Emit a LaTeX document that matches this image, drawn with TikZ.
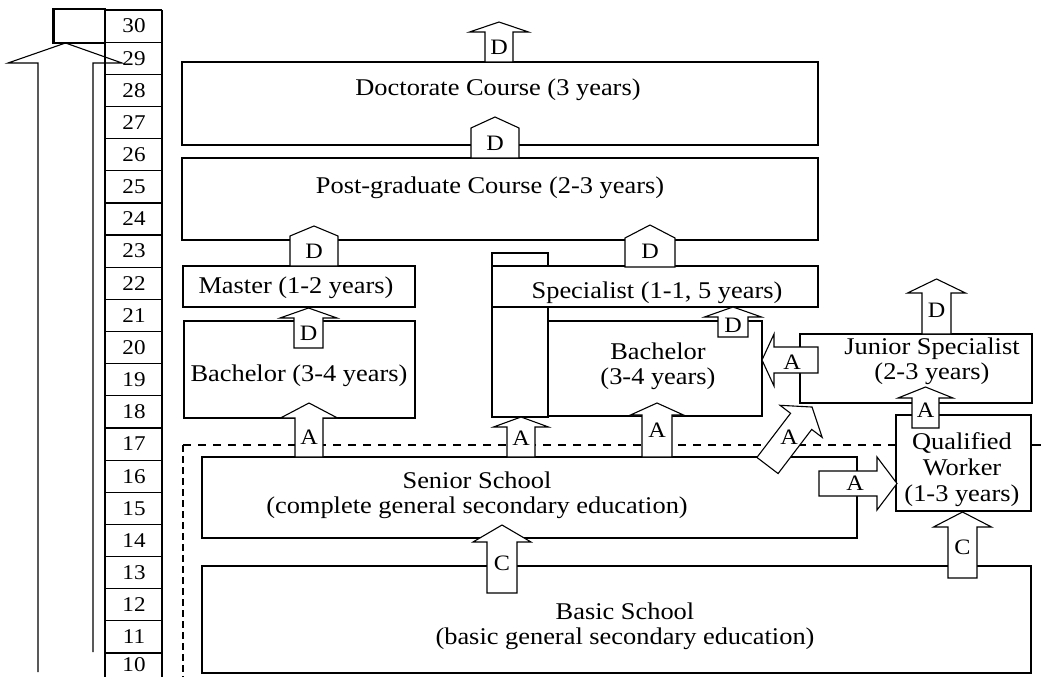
\documentclass[tikz,border=0pt]{standalone}
\usepackage{fontspec}
\setmainfont{Liberation Serif}[FakeStretch=1.1]
\tikzset{
  box/.style={draw, line width=1.2pt, fill=white},
  barrow/.style={draw, line width=1.1pt, fill=white, line join=miter},
  lbl/.style={font=\fontsize{22}{22}\selectfont, inner sep=0pt},
  txt/.style={font=\fontsize{24}{25}\selectfont, align=center, inner sep=0pt},
  num/.style={font=\fontsize{21}{21}\selectfont, inner sep=0pt},
  hdash/.style={line width=1.3pt, dash pattern=on 8pt off 7pt},
  vdash/.style={line width=2.2pt, dash pattern=on 7pt off 4pt},
}
% #1 x, #2 y, #3 angle, #4 length, #5 head length, #6 shaft half width, #7 head half width
\newcommand{\blockarr}[7]{%
  \draw[barrow, shift={(#1,#2)}, rotate=#3] (0,#6) -- ({#4-#5},#6) -- ({#4-#5},#7) -- (#4,0) -- ({#4-#5},-#7) -- ({#4-#5},-#6) -- (0,-#6) -- cycle;}
% #1 x left, #2 x right, #3 y bottom, #4 y side top, #5 y tip
\newcommand{\housearr}[5]{%
  \draw[barrow] (#1,#3) -- (#1,#4) -- ({(#1+#2)/2},#5) -- (#2,#4) -- (#2,#3) -- cycle;}
\begin{document}
\begin{tikzpicture}[x=1pt,y=-1pt]
\useasboundingbox (0,0) rectangle (1041,677);
\fill[white] (0,0) rectangle (1041,677);

% dashed border
\draw[hdash] (183,445) -- (896,445);
\draw[line width=1.3pt] (1031,445) -- (1041,445);
\draw[vdash] (183,445) -- (183,677);

% boxes
\draw[box] (182,62) rectangle (818,145);
\draw[box] (182,158) rectangle (818,240);
\draw[box] (183,266) rectangle (415,307);
\draw[box] (184,321) rectangle (415,418);
\draw[box] (492,253) rectangle (548,266);
\draw[box] (492,266) rectangle (818,307);
\draw[box] (492,307) rectangle (548,417);
\draw[box] (548,321) rectangle (762,416);
\draw[box] (800,334) rectangle (1032,403);
\draw[box] (896,415) rectangle (1031,511);
\draw[box] (202,457) rectangle (857,538);
\draw[box] (202,566) rectangle (1031,673);

% age column
\draw[line width=1.2pt] (105,10) -- (105,677);
\draw[line width=1.2pt] (162,10) -- (162,677);
\foreach \i in {0,...,20} {
  \draw[line width=1.2pt] (105,{10+\i*32.15}) -- (162,{10+\i*32.15});
}
\foreach \i in {0,...,19} {
  \node[num] (age\i) at (134,{10+(\i+0.5)*32.15}) {\the\numexpr30-\i\relax};
}
\node[num] (age20) at (134,665) {10};
% top-left box
\draw[line width=1.2pt] (53,9) rectangle (105,43);
\draw[line width=2.6pt] (53.5,43) -- (53.5,9) -- (105,9);
% big left arrow
\draw[line width=1.1pt, line join=miter] (38,672) -- (38,63) -- (8,63) -- (65.5,43) -- (122,63) -- (93,63) -- (93,652);

% houses
\housearr{471}{519}{158}{128}{117}
\housearr{290}{338}{266}{236}{226}
\housearr{625}{675}{267}{238}{225}

% block arrows
\blockarr{499}{62}{90}{40}{10}{14}{29.5}
\blockarr{308.5}{348}{90}{40}{10}{14.5}{28.5}
\blockarr{309}{457}{90}{54}{15}{14}{28.5}
\blockarr{521}{457}{90}{40}{10}{14}{27.5}
\blockarr{657}{457}{90}{54}{12}{15}{26.5}
\blockarr{733}{337}{90}{30}{10}{15}{28.5}
\blockarr{936.5}{334}{90}{55}{14}{14.5}{29}
\blockarr{925.5}{428}{90}{41}{11}{13.5}{27.5}
\blockarr{502}{593}{90}{68}{17}{15}{29}
\blockarr{962.5}{578}{90}{66}{15}{14.5}{29}
\blockarr{819}{483.5}{0}{78}{20}{12.5}{26.5}
\blockarr{818}{360}{180}{56}{12}{13}{26}
\blockarr{767.5}{465.5}{52.7}{73.5}{18}{13.3}{26.5}

% arrow labels
\node[lbl] (lD1) at (499,47) {D};
\node[lbl] (lD2) at (495,143) {D};
\node[lbl] (lD3) at (314,251) {D};
\node[lbl] (lD4) at (650,251) {D};
\node[lbl] (lD5) at (308.5,333) {D};
\node[lbl] (lD6) at (733,325) {D};
\node[lbl] (lD7) at (936.5,310) {D};
\node[lbl] (lA1) at (309,437) {A};
\node[lbl] (lA2) at (521,438) {A};
\node[lbl] (lA3) at (657,430) {A};
\node[lbl] (lA4) at (792,362) {A};
\node[lbl] (lA5) at (925.5,410) {A};
\node[lbl] (lA6) at (789,437) {A};
\node[lbl] (lA7) at (855,483) {A};
\node[lbl] (lC1) at (502,563) {C};
\node[lbl] (lC2) at (962.5,547) {C};

% box texts
\node[txt] (tdoc) at (498,90) {Doctorate Course (3 years)};
\node[txt] (tpg) at (490,188) {Post-graduate Course (2-3 years)};
\node[txt] (tmas) at (296,288) {Master (1-2 years)};
\node[txt] (tbach1) at (299,376) {Bachelor (3-4 years)};
\node[txt] (tspec) at (657,293) {Specialist (1-1, 5 years)};
\node[txt] (tbach2) at (658,366) {Bachelor\\(3-4 years)};
\node[txt] (tjun) at (932,361) {Junior Specialist\\(2-3 years)};
\node[txt, font=\fontsize{24}{26}\selectfont] (tqual) at (962,470) {Qualified\\Worker\\(1-3 years)};
\node[txt] (tsen) at (477,495) {Senior School\\(complete general secondary education)};
\node[txt] (tbas) at (625,626) {Basic School\\(basic general secondary education)};
\end{tikzpicture}
\end{document}
